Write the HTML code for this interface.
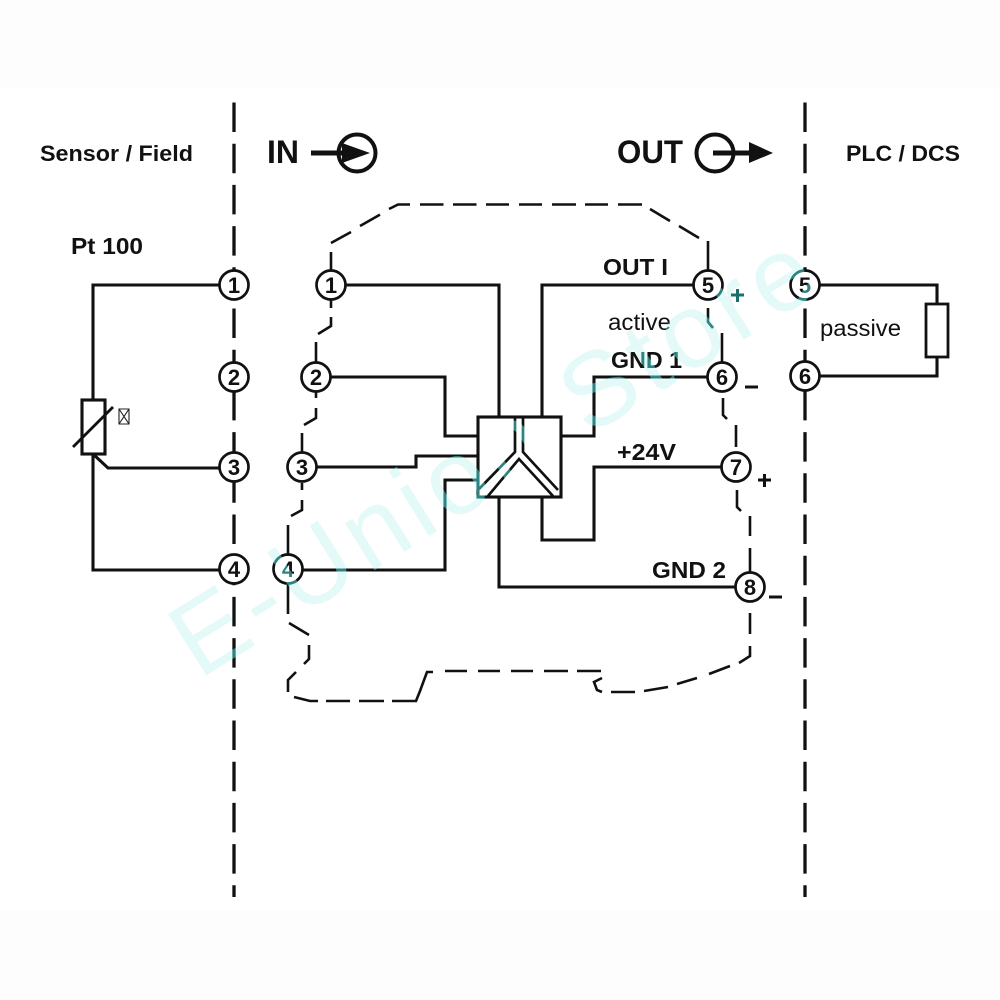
<!DOCTYPE html>
<html><head><meta charset="utf-8"><style>
html,body{margin:0;padding:0;background:#fff}
svg{display:block}
text{font-family:"Liberation Sans",sans-serif;fill:#111}
.b{font-weight:bold}
.w{fill:none;stroke:#111;stroke-width:3.1}
.d{fill:none;stroke:#111;stroke-width:2.6}
.c{fill:#fff;stroke:#111;stroke-width:2.7}
.n{font-size:22px;font-weight:bold;text-anchor:middle}
.wm{font-size:105px}
</style></head><body>
<svg width="1000" height="1000" viewBox="0 0 1000 1000" xmlns="http://www.w3.org/2000/svg">
<rect width="1000" height="1000" fill="#fff"/>
<rect width="1000" height="88" fill="#fdfdfd"/>
<rect y="910" width="1000" height="90" fill="#fdfdfd"/>
<text class="wm" transform="translate(199,680) rotate(-32)" style="fill:#e0f6f2" textLength="735" lengthAdjust="spacing">E-Union Store</text>

<path d="M234 102.500V897M805 102.500V897" fill="none" stroke="#111" stroke-width="3.3" stroke-dasharray="29.500 11.700"/>

<!-- body outline -->
<path class="d" d="M331 243L351 232M360 226L380 214.600M389 209L398 204.500H410M420 204.500H443.500M453 204.500H476.500M486 204.500H509M519 204.500H542M552 204.500H576M585 204.500H608M618 204.500H642M650 209L670 221M679 226L699 238M708 241V270"/>
<path class="d" d="M331 252V270M331 300V308M331 317V326L318 334M316 342V362M316 392V398M316 408V418L304 425M302 433V452M302 483V490M302 500V510L291 516M288 525V555M288 584V614M289 623L309 635M309 645V659L304 664M296 672L288 680V692M294 697L310 701H318M326 701H350M359 701H384M392 701H416L420 691L427 672H433M445 671H467M478 671H500M511 671H533M544 671H568M577 671H601M602 678L594 682L597 690L602 692M611 692H635M644 691L668 687M677 684L697 678M709 674L730 666M739 663L750 656V646M750 634V613M708 308V322L713 328M722 333V362M723 398V415L727 419M736 425V447M737 490V507L741 511M750 516V536M750 548V572"/>

<!-- wires -->
<path class="w" d="M234 285H93V400M93 454V570H234M93 454L108 468H234"/>
<path class="w" d="M331 285H499V417M316 377H445V436H478M302 467H416V456H478M288 570H445V480H478"/>
<path class="w" d="M499 497V587H750M542 497V540H594V467H736M542 417V285H708M561 436H594V377H722"/>
<path class="w" d="M805 285H937V304M937 357V376H805"/>

<!-- Y box -->
<rect x="478" y="417" width="83" height="80" fill="#fff" stroke="#111" stroke-width="3.1"/>
<path fill="none" stroke="#111" stroke-width="2.7" d="M515 417V452L479 489M523 417V452L558 490M488 496L519 459L553 496"/>

<!-- sensor -->
<rect x="82" y="400" width="23" height="54" fill="#fff" stroke="#111" stroke-width="3.1"/>
<path d="M73 447L113 407" stroke="#111" stroke-width="2.8" fill="none"/>
<path d="M119 409H129V424H119ZM119 409L129 424M129 409L119 424" stroke="#222" stroke-width="1.1" fill="none"/>

<!-- passive load -->
<rect x="926" y="304" width="22" height="53" fill="#fff" stroke="#111" stroke-width="2.8"/>

<!-- terminals -->
<g class="c">
<circle cx="234" cy="285" r="14.500"/><circle cx="234" cy="377" r="14.500"/><circle cx="234" cy="467" r="14.500"/><circle cx="234" cy="569" r="14.500"/>
<circle cx="331" cy="285" r="14.500"/><circle cx="316" cy="377" r="14.500"/><circle cx="302" cy="467" r="14.500"/><circle cx="288" cy="569" r="14.500"/>
<circle cx="708" cy="285" r="14.500"/><circle cx="722" cy="377" r="14.500"/><circle cx="736" cy="467" r="14.500"/><circle cx="750" cy="587" r="14.500"/>
<circle cx="805" cy="285" r="14.500"/><circle cx="805" cy="376" r="14.500"/>
</g>
<g class="n">
<text x="234" y="293">1</text><text x="234" y="385">2</text><text x="234" y="475">3</text><text x="234" y="577">4</text>
<text x="331" y="293">1</text><text x="316" y="385">2</text><text x="302" y="475">3</text><text x="288" y="577">4</text>
<text x="708" y="293">5</text><text x="722" y="385">6</text><text x="736" y="475">7</text><text x="750" y="595">8</text>
<text x="805" y="293">5</text><text x="805" y="384">6</text>
</g>

<!-- IN symbol -->
<circle cx="357" cy="153" r="18.500" fill="none" stroke="#111" stroke-width="4"/>
<path d="M311 153H345" stroke="#111" stroke-width="5"/>
<path d="M342 143L370 153L342 163Z" fill="#111"/>
<!-- OUT symbol -->
<circle cx="715" cy="153" r="18.500" fill="none" stroke="#111" stroke-width="4"/>
<path d="M713 153H752" stroke="#111" stroke-width="5"/>
<path d="M749 142L773 153L749 163Z" fill="#111"/>

<!-- labels -->
<text class="b" x="40" y="161" font-size="22.500" textLength="153" lengthAdjust="spacingAndGlyphs">Sensor / Field</text>
<text class="b" x="267" y="163" font-size="32" textLength="32" lengthAdjust="spacingAndGlyphs">IN</text>
<text class="b" x="617" y="163" font-size="32" textLength="66" lengthAdjust="spacingAndGlyphs">OUT</text>
<text class="b" x="846" y="161" font-size="22" textLength="114" lengthAdjust="spacingAndGlyphs">PLC / DCS</text>
<text class="b" x="71" y="254" font-size="23" textLength="72" lengthAdjust="spacingAndGlyphs">Pt 100</text>
<text class="b" x="603" y="275" font-size="23" textLength="65" lengthAdjust="spacingAndGlyphs">OUT I</text>
<text x="608" y="330" font-size="23" textLength="63" lengthAdjust="spacingAndGlyphs">active</text>
<text class="b" x="611" y="368" font-size="23" textLength="71" lengthAdjust="spacingAndGlyphs">GND 1</text>
<text class="b" x="617" y="460" font-size="23" textLength="59" lengthAdjust="spacingAndGlyphs">+24V</text>
<text class="b" x="652" y="578" font-size="23" textLength="74" lengthAdjust="spacingAndGlyphs">GND 2</text>
<text x="820" y="336" font-size="23" textLength="81" lengthAdjust="spacingAndGlyphs">passive</text>
<path d="M745 387H758" stroke="#111" stroke-width="3" fill="none"/>
<path d="M758 480H771M764.500 474V487" stroke="#111" stroke-width="3" fill="none"/>
<path d="M769 597H782" stroke="#111" stroke-width="3" fill="none"/>

<text class="wm" transform="translate(199,680) rotate(-32)" style="fill:#1f7a78;mix-blend-mode:screen" textLength="735" lengthAdjust="spacing">E-Union Store</text>
<path d="M731 295H744M737.500 289V302" stroke="#1d6f6c" stroke-width="3" fill="none"/>
</svg>
</body></html>
